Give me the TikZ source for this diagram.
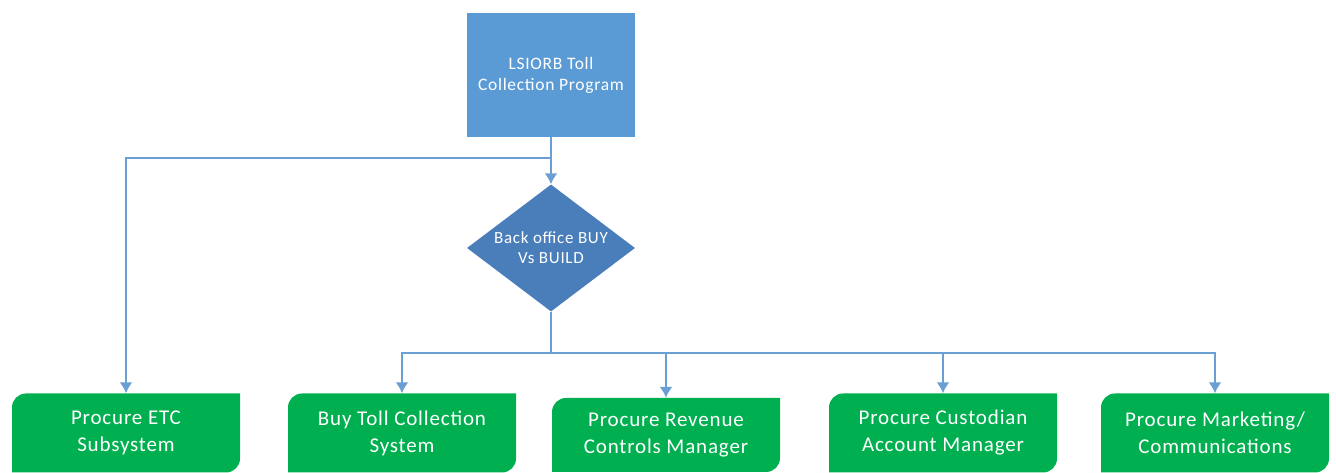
\documentclass[tikz,border=0pt]{standalone}
\usepackage{fontspec}
\setmainfont{Carlito}
\newfontfamily\boxfont[LetterSpace=4]{Carlito}
\usepackage{tikz}
\usetikzlibrary{positioning}
\usetikzlibrary{calc}
\usetikzlibrary{shapes.geometric, arrows.meta, positioning}

\definecolor{progblue}{HTML}{5B9BD5}
\definecolor{choiceblue}{HTML}{4A7EBB}
\definecolor{linkblue}{HTML}{6A9FD4}
\definecolor{taskgreen}{HTML}{00B050}

\tikzset{
    taskbox/.style={minimum width=228pt, minimum height=79pt, inner sep=0pt, align=center,
        text=white, font=\boxfont\fontsize{21}{27}\selectfont,
        path picture={\fill[taskgreen] (path picture bounding box.north east)
            -- ([yshift=14pt]path picture bounding box.south east)
            arc[start angle=0, end angle=-90, radius=14pt]
            -- (path picture bounding box.south west)
            -- ([yshift=-14pt]path picture bounding box.north west)
            arc[start angle=180, end angle=90, radius=14pt] -- cycle;}},
    link/.style={draw=linkblue, line width=2pt, -{Latex[length=11pt, width=13pt]}}
}

\begin{document}
\begin{tikzpicture} [x=1pt, y=1pt]
    % Toll program breaks down into procurement tasks
    \useasboundingbox (0, 0) rectangle (1336, 473);

    \node (prog) [rectangle, fill=progblue, minimum width=168pt, minimum height=124pt, align=center, text=white, font=\boxfont\fontsize{17.5}{21}\selectfont] at (551, 398) {LSIORB Toll\\Collection Program};
    \node (choice) [diamond, fill=choiceblue, inner sep=0pt, aspect=1.32, minimum width=168pt, minimum height=127pt, align=center, text=white, font=\boxfont\fontsize{17}{20}\selectfont] at (551, 225) {Back office BUY\\Vs BUILD};

    \coordinate (split) at (551, 315);
    \coordinate (fork) at (551, 120);

    \node (etc) [taskbox] at (126, 40) {Procure ETC\\Subsystem};
    \node (buy) [taskbox] at (402, 40) {Buy Toll Collection\\System};
    \node (rcm) [taskbox, minimum height=74pt] at (666, 38) {Procure Revenue\\Controls Manager};
    \node (cam) [taskbox] at (943, 40) {Procure Custodian\\Account Manager};
    \node (mkt) [taskbox] at (1215, 40) {Procure Marketing/\\Communications};

    \draw[link] (prog.south) -- (choice.north);
    \draw[link] (prog.south) -- (split) -| (etc.north);
    \foreach \task in {buy, rcm, cam, mkt}
        \draw[link] (choice.south) -- (fork) -| (\task.north);

\end{tikzpicture}
\end{document}
